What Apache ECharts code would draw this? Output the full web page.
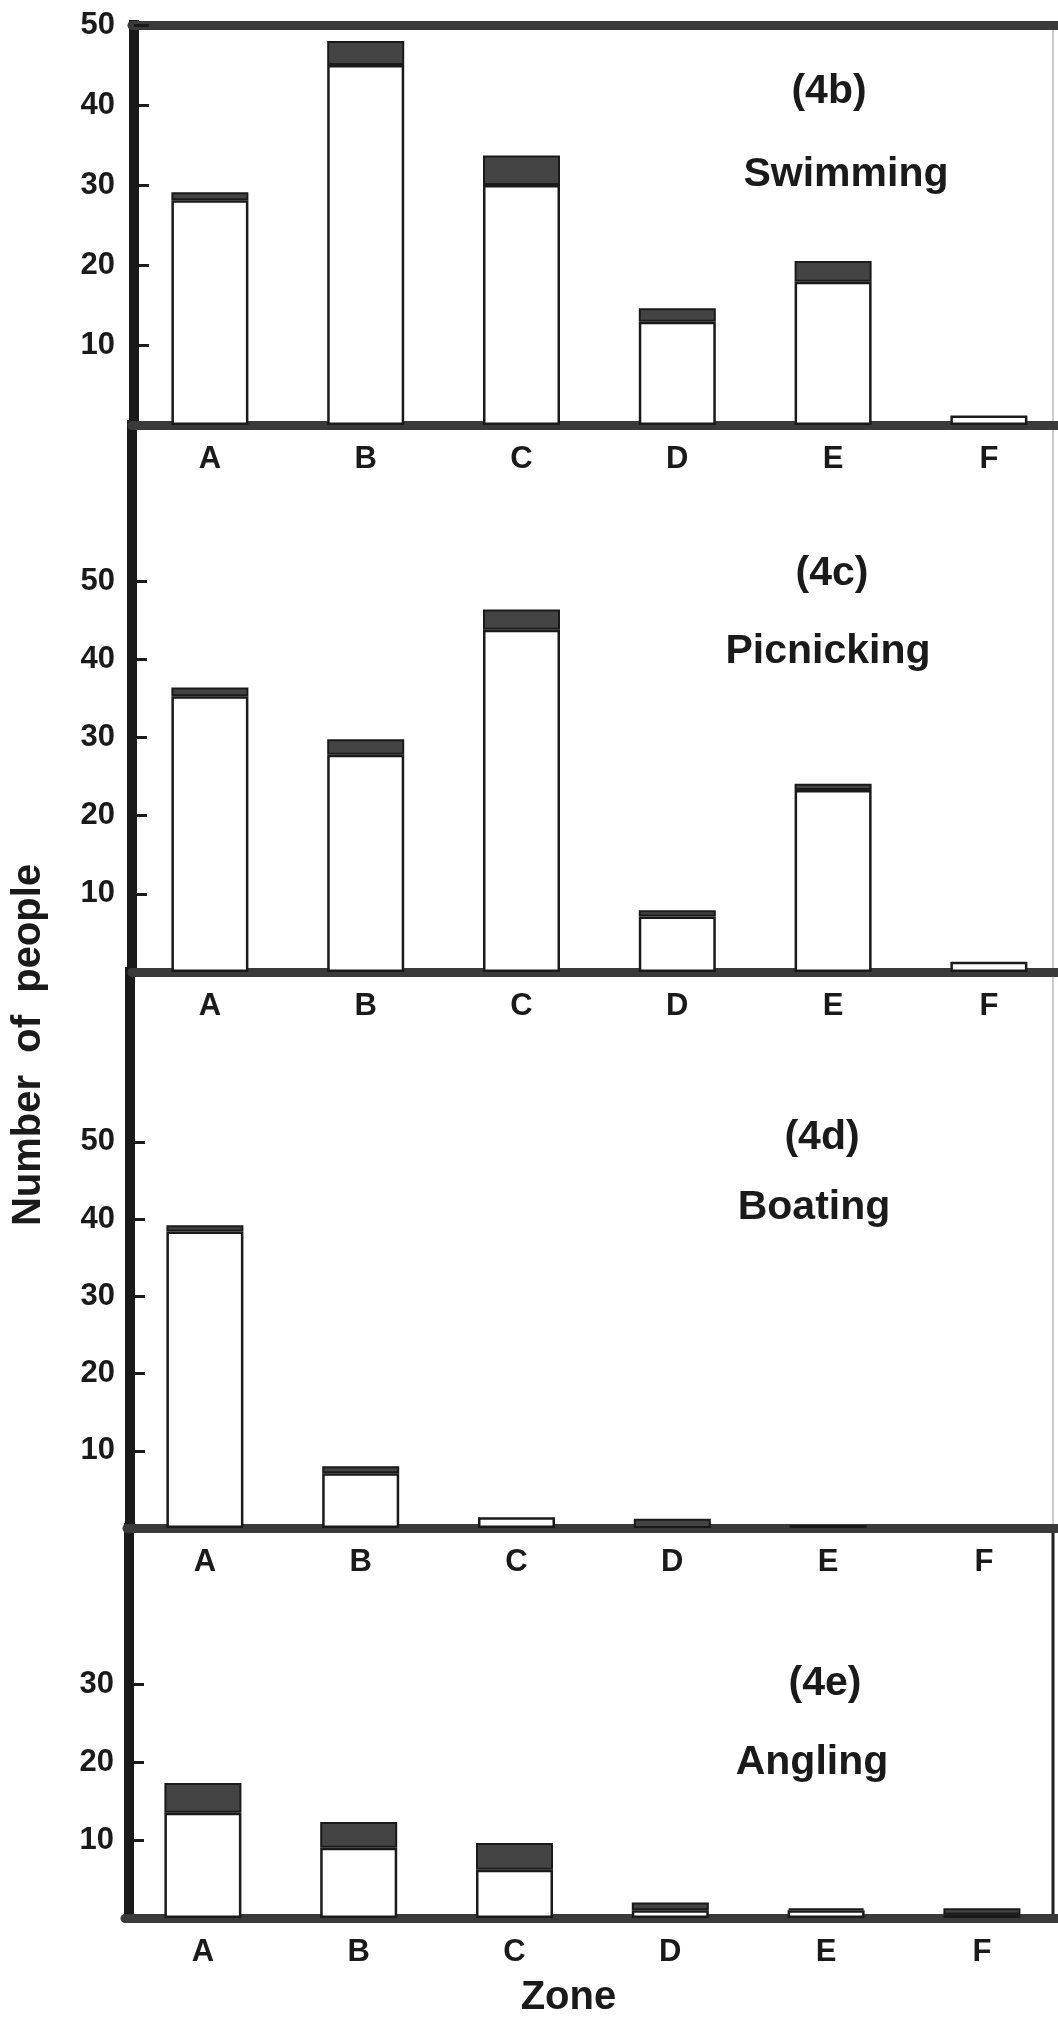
<!DOCTYPE html>
<html>
<head>
<meta charset="utf-8">
<script src="https://cdn.jsdelivr.net/npm/echarts@6/dist/echarts.min.js"></script>
<style>
html,body{margin:0;padding:0;background:#fff;}
#c{width:1058px;height:2020px;}
</style>
</head>
<body>
<div id="c"></div>
<script>
// ---------------- data ----------------
const zones = ['A', 'B', 'C', 'D', 'E', 'F'];

// open (white) part and shaded (dark) part of each bar
const swimOpen     = [28.1, 45.0, 30.0, 12.9, 17.9, 1.2];
const swimShaded   = [1.0, 3.0, 3.7, 1.7, 2.6, 0];
const picnicOpen   = [35.3, 27.8, 43.8, 7.1, 23.3, 1.3];
const picnicShaded = [1.1, 2.0, 2.6, 0.8, 0.8, 0];
const boatOpen     = [38.4, 7.1, 1.4, 0, 0, 0];
const boatShaded   = [0.8, 0.9, 0, 1.2, 0.4, 0];
const angleOpen    = [13.5, 9.0, 6.2, 1.0, 1.0, 0.45];
const angleShaded  = [3.8, 3.3, 3.4, 1.0, 0.25, 0.8];

const panelTags  = ['(4b)', '(4c)', '(4d)', '(4e)'];
const activities = ['Swimming', 'Picnicking', 'Boating', 'Angling'];
const yTickVals  = [[10, 20, 30, 40, 50], [10, 20, 30, 40, 50], [10, 20, 30, 40, 50], [10, 20, 30]];
const yMaxVals   = [50, 70, 72, 50];
const yTitle = 'Number  of  people';
const xTitle = 'Zone';

// ---------------- styling / layout ----------------
const FONT = '"Liberation Sans", Arial, Helvetica, sans-serif';
const INK = '#1a1a1a';
const SHADE = '#444444';
const FRAME = '#3a3a3a';
const BAND = 155.8;
const layout = [
  {left: 132, top: 25,   height: 400, yOff: -2, lblM: 19, tag: [829, 92],   name: [846, 175]},
  {left: 132, top: 425,  height: 547, yOff: 0,  lblM: 17, tag: [832, 574],  name: [828, 652]},
  {left: 127, top: 972,  height: 556, yOff: -3, lblM: 15, tag: [822, 1138], name: [814, 1208]},
  {left: 125, top: 1528, height: 390, yOff: -4, lblM: 15, tag: [825, 1684], name: [812, 1763]}
];
const opens = [swimOpen, picnicOpen, boatOpen, angleOpen];
const shadeds = [swimShaded, picnicShaded, boatShaded, angleShaded];
const blank = v => (v === 0 ? '-' : v);

const grid = [], xAxis = [], yAxis = [], series = [], graphic = [];
layout.forEach((L, i) => {
  grid.push({left: L.left, top: L.top, width: BAND * 6, height: L.height,
             containLabel: false, outerBoundsMode: 'none'});
  xAxis.push({
    gridIndex: i, type: 'category', data: zones,
    axisLine: {lineStyle: {color: FRAME, width: 9}},
    axisTick: {show: false},
    axisLabel: {fontSize: 31, fontWeight: 'bold', color: INK, fontFamily: FONT, margin: 19},
    name: i === 3 ? xTitle : '',
    nameLocation: 'middle', nameGap: 60,
    nameTextStyle: {fontSize: 40, fontWeight: 'bold', color: INK, fontFamily: FONT, padding: [0, 48, 0, 0]}
  });
  yAxis.push({
    gridIndex: i, type: 'value', min: 0, max: yMaxVals[i], offset: L.yOff,
    axisLine: {show: true, lineStyle: {color: INK, width: 10, cap: 'square'}},
    axisTick: {show: true, inside: true, length: 15, lineStyle: {color: INK, width: 3}, customValues: yTickVals[i]},
    axisLabel: {customValues: yTickVals[i], fontSize: 31, fontWeight: 'bold', color: INK, fontFamily: FONT, margin: L.lblM},
    splitLine: {show: false}
  });
  series.push({
    type: 'bar', xAxisIndex: i, yAxisIndex: i, stack: 'p' + i, barWidth: 77,
    data: opens[i].map(blank),
    itemStyle: {color: '#ffffff', borderColor: INK, borderWidth: 2.5},
    silent: true
  });
  series.push({
    type: 'bar', xAxisIndex: i, yAxisIndex: i, stack: 'p' + i, barWidth: 77,
    data: shadeds[i].map(blank),
    itemStyle: {color: SHADE, borderColor: INK, borderWidth: 2},
    silent: true
  });
  graphic.push({type: 'text', x: L.tag[0], y: L.tag[1],
    style: {text: panelTags[i], fill: INK, font: 'bold 41px ' + FONT, align: 'center', verticalAlign: 'middle'}});
  graphic.push({type: 'text', x: L.name[0], y: L.name[1],
    style: {text: activities[i], fill: INK, font: 'bold 41px ' + FONT, align: 'center', verticalAlign: 'middle'}});
});
// top frame line of the first panel
xAxis.push({
  gridIndex: 0, type: 'category', data: zones, position: 'top',
  axisLine: {lineStyle: {color: FRAME, width: 9}},
  axisTick: {show: false}, axisLabel: {show: false}
});
// shared y title
graphic.push({type: 'text', x: 29, y: 1045, rotation: Math.PI / 2,
  style: {text: yTitle, fill: INK, font: 'bold 40px ' + FONT, align: 'center', verticalAlign: 'middle'}});
// right frame edge
graphic.push({type: 'line', shape: {x1: 1053, y1: 25, x2: 1053, y2: 1528}, style: {stroke: '#cccccc', lineWidth: 2}});
graphic.push({type: 'line', shape: {x1: 1053, y1: 1528, x2: 1053, y2: 1918}, style: {stroke: '#222', lineWidth: 3}});

const chart = echarts.init(document.getElementById('c'), null, {renderer: 'canvas', width: 1058, height: 2020});
chart.setOption({
  backgroundColor: '#ffffff',
  animation: false,
  grid, xAxis, yAxis, series, graphic
});
</script>
</body>
</html>
